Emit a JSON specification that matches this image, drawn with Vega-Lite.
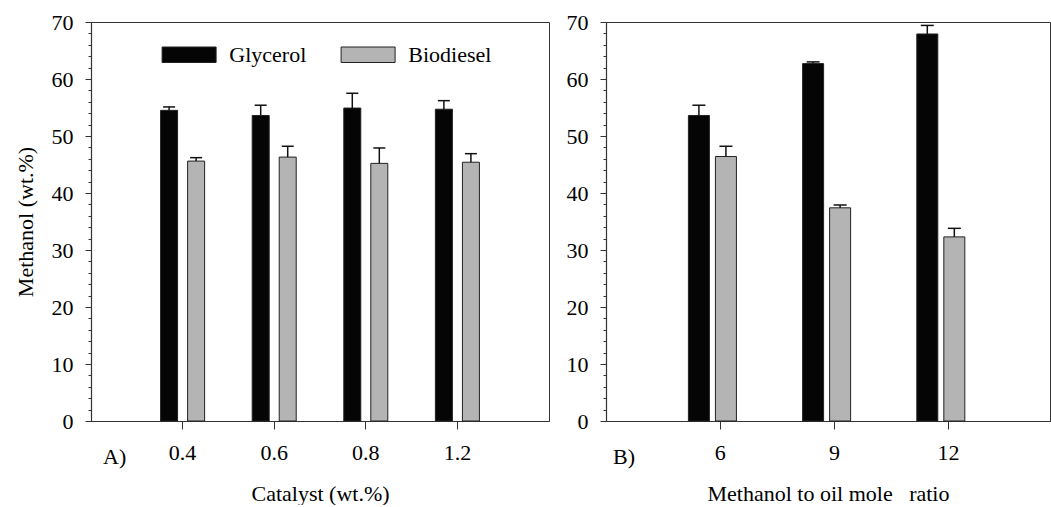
{
  "$schema": "https://vega.github.io/schema/vega-lite/v6.json",
  "background": "white",
  "padding": {"left": 13, "top": 10, "right": 0, "bottom": 0},
  "datasets": {
    "catalyst": [
      {"level": "0.4", "series": "Glycerol", "value": 54.5, "upper": 55.1},
      {"level": "0.4", "series": "Biodiesel", "value": 45.6, "upper": 46.2},
      {"level": "0.6", "series": "Glycerol", "value": 53.6, "upper": 55.4},
      {"level": "0.6", "series": "Biodiesel", "value": 46.3, "upper": 48.2},
      {"level": "0.8", "series": "Glycerol", "value": 54.9, "upper": 57.5},
      {"level": "0.8", "series": "Biodiesel", "value": 45.2, "upper": 47.9},
      {"level": "1.2", "series": "Glycerol", "value": 54.7, "upper": 56.2},
      {"level": "1.2", "series": "Biodiesel", "value": 45.4, "upper": 46.9}
    ],
    "ratio": [
      {"level": "6", "series": "Glycerol", "value": 53.6, "upper": 55.4},
      {"level": "6", "series": "Biodiesel", "value": 46.4, "upper": 48.2},
      {"level": "9", "series": "Glycerol", "value": 62.7, "upper": 63.0},
      {"level": "9", "series": "Biodiesel", "value": 37.4, "upper": 37.9},
      {"level": "12", "series": "Glycerol", "value": 67.9, "upper": 69.4},
      {"level": "12", "series": "Biodiesel", "value": 32.3, "upper": 33.8}
    ]
  },
  "spacing": 15,
  "resolve": {"legend": {"color": "independent"}, "scale": {"color": "independent"}},
  "hconcat": [
    {
      "width": 458,
      "height": 399,
      "data": {"name": "catalyst"},
      "title": {"text": "A)", "orient": "bottom", "anchor": "start", "frame": "group", "offset": -57, "dx": 12},
      "resolve": {"axis": {"y": "independent"}},
      "encoding": {
        "x": {
          "field": "level", "type": "ordinal", "sort": null,
          "scale": {"paddingInner": 0.41, "paddingOuter": 0.705},
          "axis": {"title": "Catalyst (wt.%)", "labelAngle": 0, "tickSize": 8, "labelPadding": 13, "titlePadding": 20}
        },
        "xOffset": {"field": "series", "type": "nominal", "sort": ["Glycerol", "Biodiesel"], "scale": {"paddingInner": 0, "paddingOuter": 0}}
      },
      "layer": [
        {
          "mark": {"type": "bar", "width": 17, "stroke": "#222", "strokeWidth": 1, "opacity": 1},
          "encoding": {
            "y": {
              "field": "value", "type": "quantitative",
              "scale": {"domain": [0, 70], "nice": false, "zero": true},
              "axis": {
                "title": "Methanol (wt.%)", "orient": "left",
                "values": [0, 10, 20, 30, 40, 50, 60, 70],
                "tickSize": 6, "labelPadding": 12, "titlePadding": 14, "grid": false, "labelOverlap": false
              }
            },
            "color": {
              "field": "series", "type": "nominal", "sort": ["Glycerol", "Biodiesel"],
              "scale": {"domain": ["Glycerol", "Biodiesel"], "range": ["#050505", "#b4b4b4"]},
              "legend": {
                "title": null, "orient": "none", "legendX": 70.6, "legendY": 5, "direction": "horizontal",
                "symbolType": "M-1,-0.287L1,-0.287L1,0.287L-1,0.287Z", "symbolSize": 2916,
                "symbolStrokeColor": "#222", "symbolStrokeWidth": 1, "symbolOpacity": 1,
                "labelFont": "Liberation Serif", "labelFontSize": 22, "labelColor": "black",
                "labelOffset": 12.7, "columnPadding": 32, "padding": 0
              }
            }
          }
        },
        {
          "mark": {"type": "rule", "color": "#111", "strokeWidth": 1.5},
          "encoding": {
            "y": {
              "field": "value", "type": "quantitative",
              "scale": {"domain": [0, 70], "nice": false, "zero": true},
              "axis": {
                "title": null, "orient": "left", "labels": false, "domain": false, "grid": false,
                "values": [2, 4, 6, 8, 12, 14, 16, 18, 22, 24, 26, 28, 32, 34, 36, 38, 42, 44, 46, 48, 52, 54, 56, 58, 62, 64, 66, 68],
                "tickSize": 3
              }
            },
            "y2": {"field": "upper"}
          }
        },
        {
          "mark": {"type": "tick", "orient": "horizontal", "size": 12, "thickness": 1.5, "color": "#111", "opacity": 1},
          "encoding": {"y": {"field": "upper", "type": "quantitative", "axis": null}}
        }
      ]
    },
    {
      "width": 444,
      "height": 399,
      "data": {"name": "ratio"},
      "title": {"text": "B)", "orient": "bottom", "anchor": "start", "frame": "group", "offset": -57, "dx": 7},
      "resolve": {"axis": {"y": "independent"}},
      "encoding": {
        "x": {
          "field": "level", "type": "ordinal", "sort": null,
          "scale": {"paddingInner": 0.39, "paddingOuter": 0.639, "align": 0.544},
          "axis": {"title": "Methanol to oil mole\u00a0\u00a0 ratio", "labelAngle": 0, "tickSize": 8, "labelPadding": 13, "titlePadding": 20}
        },
        "xOffset": {"field": "series", "type": "nominal", "sort": ["Glycerol", "Biodiesel"], "scale": {"paddingInner": 0, "paddingOuter": 0}}
      },
      "layer": [
        {
          "mark": {"type": "bar", "width": 21, "stroke": "#222", "strokeWidth": 1, "opacity": 1},
          "encoding": {
            "y": {
              "field": "value", "type": "quantitative",
              "scale": {"domain": [0, 70], "nice": false, "zero": true},
              "axis": {
                "title": null, "orient": "left",
                "values": [0, 10, 20, 30, 40, 50, 60, 70],
                "tickSize": 6, "labelPadding": 12, "grid": false, "labelOverlap": false
              }
            },
            "color": {
              "field": "series", "type": "nominal",
              "scale": {"domain": ["Glycerol", "Biodiesel"], "range": ["#050505", "#b4b4b4"]},
              "legend": null
            }
          }
        },
        {
          "mark": {"type": "rule", "color": "#111", "strokeWidth": 1.5},
          "encoding": {
            "y": {
              "field": "value", "type": "quantitative",
              "scale": {"domain": [0, 70], "nice": false, "zero": true},
              "axis": {
                "title": null, "orient": "left", "labels": false, "domain": false, "grid": false,
                "values": [2, 4, 6, 8, 12, 14, 16, 18, 22, 24, 26, 28, 32, 34, 36, 38, 42, 44, 46, 48, 52, 54, 56, 58, 62, 64, 66, 68],
                "tickSize": 3
              }
            },
            "y2": {"field": "upper"}
          }
        },
        {
          "mark": {"type": "tick", "orient": "horizontal", "size": 13, "thickness": 1.5, "color": "#111", "opacity": 1},
          "encoding": {"y": {"field": "upper", "type": "quantitative", "axis": null}}
        }
      ]
    }
  ],
  "config": {
    "view": {"stroke": "#333", "strokeWidth": 1},
    "font": "Liberation Serif",
    "axis": {
      "labelFont": "Liberation Serif", "labelFontSize": 22, "labelColor": "black",
      "titleFont": "Liberation Serif", "titleFontSize": 22, "titleFontWeight": "normal", "titleColor": "black",
      "domainColor": "#333", "tickColor": "#333", "domainWidth": 1.2, "tickWidth": 1, "labelOverlap": false
    },
    "title": {"font": "Liberation Serif", "fontSize": 22, "fontWeight": "normal", "color": "black"}
  }
}
